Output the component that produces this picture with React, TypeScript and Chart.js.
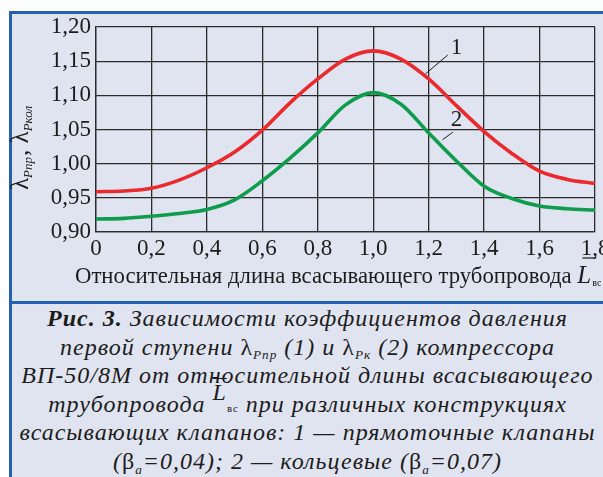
import React, { useEffect, useRef } from "react";
import { Chart, registerables } from "chart.js";

Chart.register(...registerables);

// ---- data ----
const xValues = [0, 0.1, 0.2, 0.3, 0.4, 0.5, 0.6, 0.7, 0.8, 0.9, 1.0, 1.1, 1.2, 1.3, 1.4, 1.5, 1.6, 1.7, 1.8];
const series1 = [0.959, 0.960, 0.964, 0.976, 0.994, 1.017, 1.049, 1.089, 1.124, 1.153, 1.165, 1.153, 1.124, 1.085, 1.047, 1.015, 0.989, 0.977, 0.971];
const series2 = [0.919, 0.920, 0.923, 0.927, 0.933, 0.947, 0.975, 1.008, 1.045, 1.086, 1.104, 1.087, 1.045, 1.004, 0.967, 0.949, 0.938, 0.934, 0.932];
const seriesNames = ["1", "2"];

const xTickValues = [0, 0.2, 0.4, 0.6, 0.8, 1.0, 1.2, 1.4, 1.6, 1.8];
const xTickLabels = ["0", "0,2", "0,4", "0,6", "0,8", "1,0", "1,2", "1,4", "1,6", "1,8"];
const yTickValues = [0.9, 0.95, 1.0, 1.05, 1.1, 1.15, 1.2];
const yTickLabels = ["0,90", "0,95", "1,00", "1,05", "1,10", "1,15", "1,20"];

// curve labels (data units): label point, leader start, leader end
const labelX = [1.30, 1.30];
const labelY = [1.169, 1.064];
const leaderFromX = [1.189, 1.25];
const leaderFromY = [1.1316, 1.035];
const leaderToX = [1.269, 1.287];
const leaderToY = [1.159, 1.046];

const xTitle = "Относительная длина всасывающего трубопровода";

const TEXT = "#1c1c1c";
const GRID = "#2b2b2b";
const SERIF = '"Liberation Serif", "Times New Roman", serif';

function pick(values: number[], labels: string[], v: number) {
  let best = 0;
  for (let i = 0; i < values.length; i++) {
    if (Math.abs(values[i] - v) < Math.abs(values[best] - v)) best = i;
  }
  return labels[best];
}

const overlayPlugin = {
  id: "overlay",
  afterDraw(chart: any) {
    const ctx = chart.ctx as CanvasRenderingContext2D;
    const xs = chart.scales.x;
    const ys = chart.scales.y;
    ctx.save();
    // curve labels with leaders
    ctx.strokeStyle = TEXT;
    ctx.fillStyle = TEXT;
    ctx.lineWidth = 1;
    for (let i = 0; i < seriesNames.length; i++) {
      ctx.beginPath();
      ctx.moveTo(xs.getPixelForValue(leaderFromX[i]), ys.getPixelForValue(leaderFromY[i]));
      ctx.lineTo(xs.getPixelForValue(leaderToX[i]), ys.getPixelForValue(leaderToY[i]));
      ctx.stroke();
      ctx.font = `23px ${SERIF}`;
      ctx.textAlign = "center";
      ctx.textBaseline = "middle";
      ctx.fillText(seriesNames[i], xs.getPixelForValue(labelX[i]), ys.getPixelForValue(labelY[i]));
    }

    // x axis title
    ctx.textAlign = "left";
    ctx.textBaseline = "alphabetic";
    ctx.font = `20px ${SERIF}`;
    const w20 = ctx.measureText(xTitle).width;
    const size = (20 * 497) / w20;
    ctx.font = `${size}px ${SERIF}`;
    const tx = 75;
    const baseline = 283;
    ctx.fillText(xTitle, tx, baseline);
    const lx = tx + ctx.measureText(xTitle + " ").width;
    ctx.font = `italic 25px ${SERIF}`;
    ctx.fillText("L", lx, baseline);
    ctx.lineWidth = 1.2;
    ctx.beginPath();
    ctx.moveTo(lx + 5, 258);
    ctx.lineTo(lx + 19, 258);
    ctx.stroke();
    ctx.font = `10px ${SERIF}`;
    ctx.fillText("вс", lx + 15, baseline + 3);

    // y axis title (rotated)
    ctx.translate(28, 190);
    ctx.rotate(-Math.PI / 2);
    let p = 0;
    const big = `25px ${SERIF}`;
    const small = `italic 13px ${SERIF}`;
    const parts: [string, string, number][] = [
      ["λ", big, 0],
      ["Pпр", small, 4],
      [", ", big, 0],
      ["λ", big, 0],
      ["Pкол", small, 4],
    ];
    for (const [t, f, dy] of parts) {
      ctx.font = f;
      ctx.fillText(t, p, dy);
      p += ctx.measureText(t).width + (dy ? 1 : 0);
    }
    ctx.restore();
  },
};

function ChartBox() {
  const ref = useRef<HTMLCanvasElement | null>(null);
  useEffect(() => {
    if (!ref.current) return;
    const chart = new Chart(ref.current, {
      type: "line",
      data: {
        datasets: [
          {
            label: seriesNames[0],
            data: xValues.map((x, i) => ({ x, y: series1[i] })),
            borderColor: "#ea2a2e",
            borderWidth: 3.6,
            pointRadius: 0,
            cubicInterpolationMode: "monotone",
            fill: false,
          },
          {
            label: seriesNames[1],
            data: xValues.map((x, i) => ({ x, y: series2[i] })),
            borderColor: "#0f9c4c",
            borderWidth: 3.6,
            pointRadius: 0,
            cubicInterpolationMode: "monotone",
            fill: false,
          },
        ],
      },
      options: {
        animation: false,
        responsive: false,
        devicePixelRatio: 1,
        layout: { padding: { left: 0, top: 27, right: 8, bottom: 0 } },
        plugins: { legend: { display: false }, tooltip: { enabled: false } },
        scales: {
          x: {
            type: "linear",
            min: 0,
            max: 1.8,
            afterBuildTicks: (s: any) => {
              s.ticks = xTickValues.map((v) => ({ value: v }));
            },
            afterFit: (s: any) => {
              s.height = 68;
              s.paddingLeft = 0;
              s.paddingRight = 0;
            },
            ticks: {
              autoSkip: false,
              maxRotation: 0,
              padding: 3,
              color: TEXT,
              font: { family: SERIF, size: 23 },
              callback: (v: any) => pick(xTickValues, xTickLabels, Number(v)),
            },
            grid: { color: GRID, lineWidth: 1.3, drawTicks: false },
            border: { color: GRID, width: 1.3 },
          },
          y: {
            type: "linear",
            min: 0.9,
            max: 1.2,
            afterBuildTicks: (s: any) => {
              s.ticks = yTickValues.map((v) => ({ value: v }));
            },
            afterFit: (s: any) => {
              s.width = 96;
            },
            ticks: {
              autoSkip: false,
              padding: 5,
              color: TEXT,
              font: { family: SERIF, size: 23 },
              callback: (v: any) => pick(yTickValues, yTickLabels, Number(v)),
            },
            grid: { color: GRID, lineWidth: 1.3, drawTicks: false },
            border: { color: GRID, width: 1.3 },
          },
        },
      } as any,
      plugins: [overlayPlugin],
    });
    return () => chart.destroy();
  }, []);
  return (
    <canvas
      ref={ref}
      width={603}
      height={300}
      style={{ position: "absolute", left: 0, top: 0, width: 603, height: 300 }}
    />
  );
}

const sub: React.CSSProperties = { fontSize: "0.55em", position: "relative", top: "0.35em", lineHeight: 0 };
const up: React.CSSProperties = { fontStyle: "normal" };
const LINE = 28.6;

export default function App() {
  const blue = "#2461b0";
  const line = (i: number): React.CSSProperties => ({
    position: "absolute",
    left: 0,
    right: 0,
    top: i * LINE,
    height: LINE,
    lineHeight: `${LINE}px`,
  });
  return (
    <div
      style={{
        position: "fixed",
        left: 0,
        top: 0,
        width: 603,
        height: 477,
        background: "#ffffff",
        overflow: "hidden",
      }}
    >
      <div
        style={{
          position: "absolute",
          left: 9,
          top: 11,
          right: 0,
          bottom: 0,
          background: "#e0e4f0",
          borderTop: `3px solid ${blue}`,
          borderLeft: `3px solid ${blue}`,
        }}
      />
      <div style={{ position: "absolute", left: 9, right: 0, top: 301, height: 3, background: blue }} />
      <ChartBox />
      <div
        style={{
          position: "absolute",
          left: 12,
          right: 0,
          top: 304,
          height: 173,
          textAlign: "center",
          fontFamily: '"Liberation Serif", serif',
          fontStyle: "italic",
          fontSize: 24,
          letterSpacing: "1px",
          color: TEXT,
          whiteSpace: "nowrap",
        }}
      >
        <div style={line(0)}>
          <b>Рис. 3.</b> Зависимости коэффициентов давления
        </div>
        <div style={line(1)}>
          первой ступени <span style={up}>λ</span>
          <span style={sub}>Pпр</span> (1) и <span style={up}>λ</span>
          <span style={sub}>Pк</span> (2) компрессора
        </div>
        <div style={line(2)}>ВП-50/8М от относительной длины всасывающего</div>
        <div style={line(3)}>
          трубопровода{" "}
          <span style={{ position: "relative", top: "-0.5em", textDecoration: "overline", textDecorationThickness: "1px" }}>L</span>
          <span style={{ fontSize: "0.45em", fontStyle: "normal" }}>вс</span> при различных конструкциях
        </div>
        <div style={line(4)}>всасывающих клапанов: 1 — прямоточные клапаны</div>
        <div style={line(5)}>
          (<span style={up}>β</span>
          <span style={sub}>a</span>=0,04); 2 — кольцевые (<span style={up}>β</span>
          <span style={sub}>a</span>=0,07)
        </div>
      </div>
    </div>
  );
}
